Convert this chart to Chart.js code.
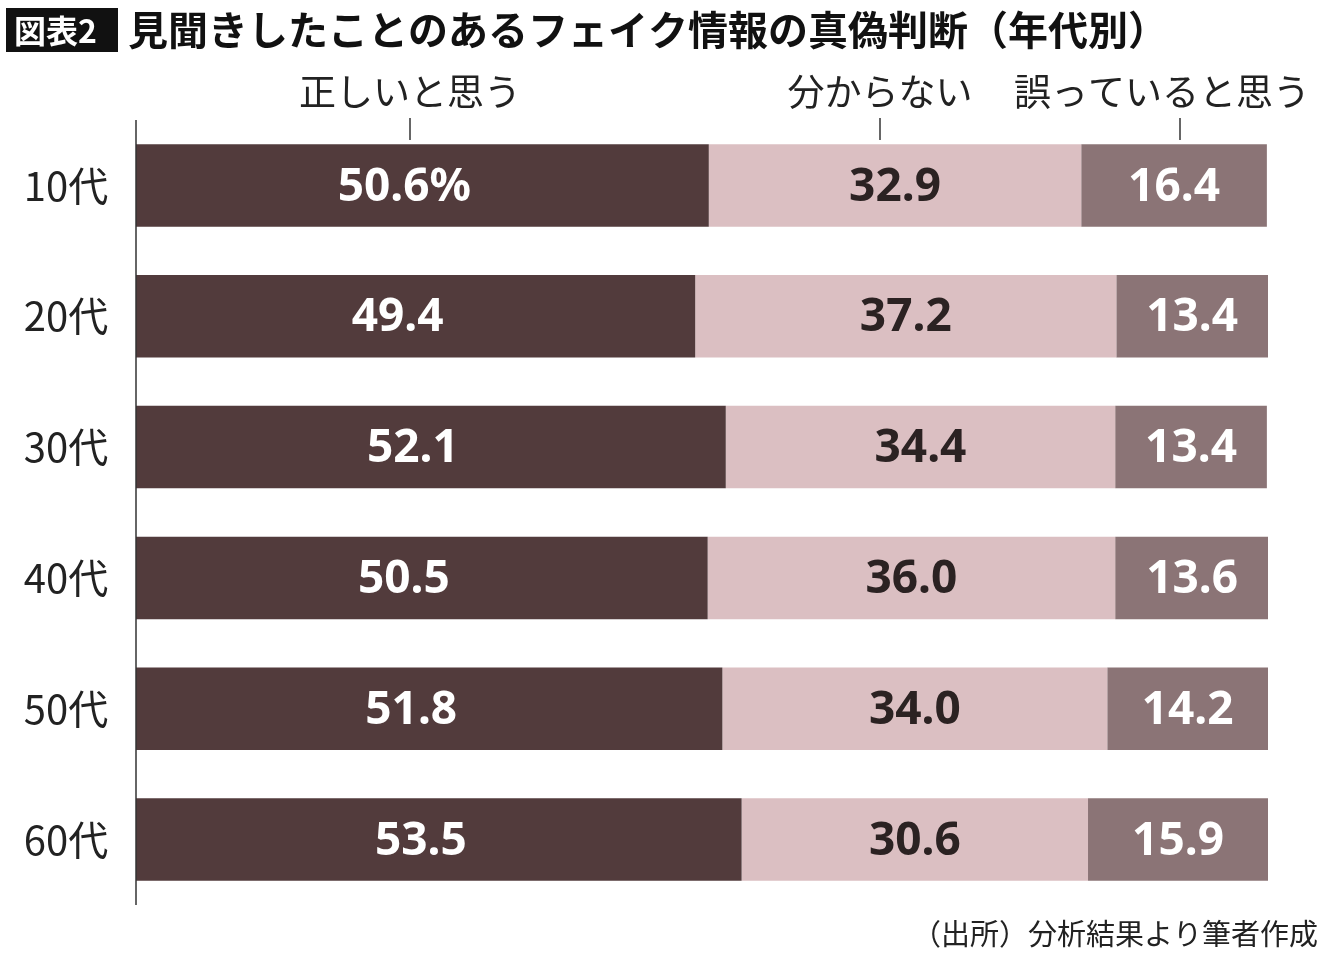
<!DOCTYPE html>
<html><head><meta charset="utf-8">
<script src="https://cdn.jsdelivr.net/npm/chart.js@4"></script>
<style>html,body{margin:0;background:#fff}#w{position:relative;width:1340px;height:969px}</style>
</head><body><div id="w"><canvas id="c" width="1340" height="969"></canvas></div>
<script>
const categories=["10代","20代","30代","40代","50代","60代"];
const seriesNames=["正しいと思う","分からない","誤っていると思う"];
const correct=[50.6,49.4,52.1,50.5,51.8,53.5];
const unknown=[32.9,37.2,34.4,36.0,34.0,30.6];
const wrong=[16.4,13.4,13.4,13.6,14.2,15.9];
const colors=["#523b3c","#dbbfc2","#8b7476"];
const textColors=["#fff","#2b2222","#fff"];
const F="'Noto Sans CJK JP','Noto Sans',sans-serif";
const deco={id:'deco',afterDatasetsDraw(ch){
 const c=ch.ctx,a=ch.chartArea;
 c.save();
 c.strokeStyle="#333";c.lineWidth=1.5;c.beginPath();c.moveTo(a.left,a.top);c.lineTo(a.left,a.bottom);c.stroke();
 c.textAlign="center";c.textBaseline="middle";c.font="bold 46px 'Noto Sans',sans-serif";
 const off=[-18,0,0];
 ch.data.datasets.forEach((ds,i)=>{ch.getDatasetMeta(i).data.forEach((b,j)=>{
  c.fillStyle=textColors[i];let t=ds.data[j].toFixed(1);if(i==0&&j==0)t+="%";
  c.fillText(t,(b.base+b.x)/2+off[i],b.y+2);});});
 c.font="40px "+F;c.fillStyle="#222";c.textAlign="center";
 ch.getDatasetMeta(0).data.forEach((b,j)=>c.fillText(categories[j],66,b.y));
 const hx=[410,880,1162],tx=[410,880,1180];
 c.font="37px "+F;
 hx.forEach((x,i)=>{c.fillText(seriesNames[i],x,92);c.beginPath();c.moveTo(tx[i],118);c.lineTo(tx[i],140);c.lineWidth=1.5;c.stroke();});
 c.fillStyle="#111";c.fillRect(6,8,112,44);
 c.fillStyle="#fff";c.font="bold 32px "+F;c.textAlign="left";c.fillText("図表2",14,31);
 c.fillStyle="#111";c.font="bold 40px "+F;c.fillText("見聞きしたことのあるフェイク情報の真偽判断（年代別）",128,30);
 c.font="29px "+F;c.textAlign="right";c.fillStyle="#222";c.fillText("（出所）分析結果より筆者作成",1318,934);
 c.restore();}};
new Chart(document.getElementById('c'),{type:'bar',
 data:{labels:categories,datasets:[correct,unknown,wrong].map((d,i)=>({label:seriesNames[i],data:d,backgroundColor:colors[i],borderWidth:0,barPercentage:0.63,categoryPercentage:1}))},
 options:{indexAxis:'y',responsive:false,animation:false,
  layout:{padding:{left:136,right:72,top:120,bottom:64}},
  plugins:{legend:{display:false},tooltip:{enabled:false}},
  scales:{x:{stacked:true,min:0,max:100,display:false},y:{stacked:true,display:false}}},
 plugins:[deco]});
</script></body></html>
